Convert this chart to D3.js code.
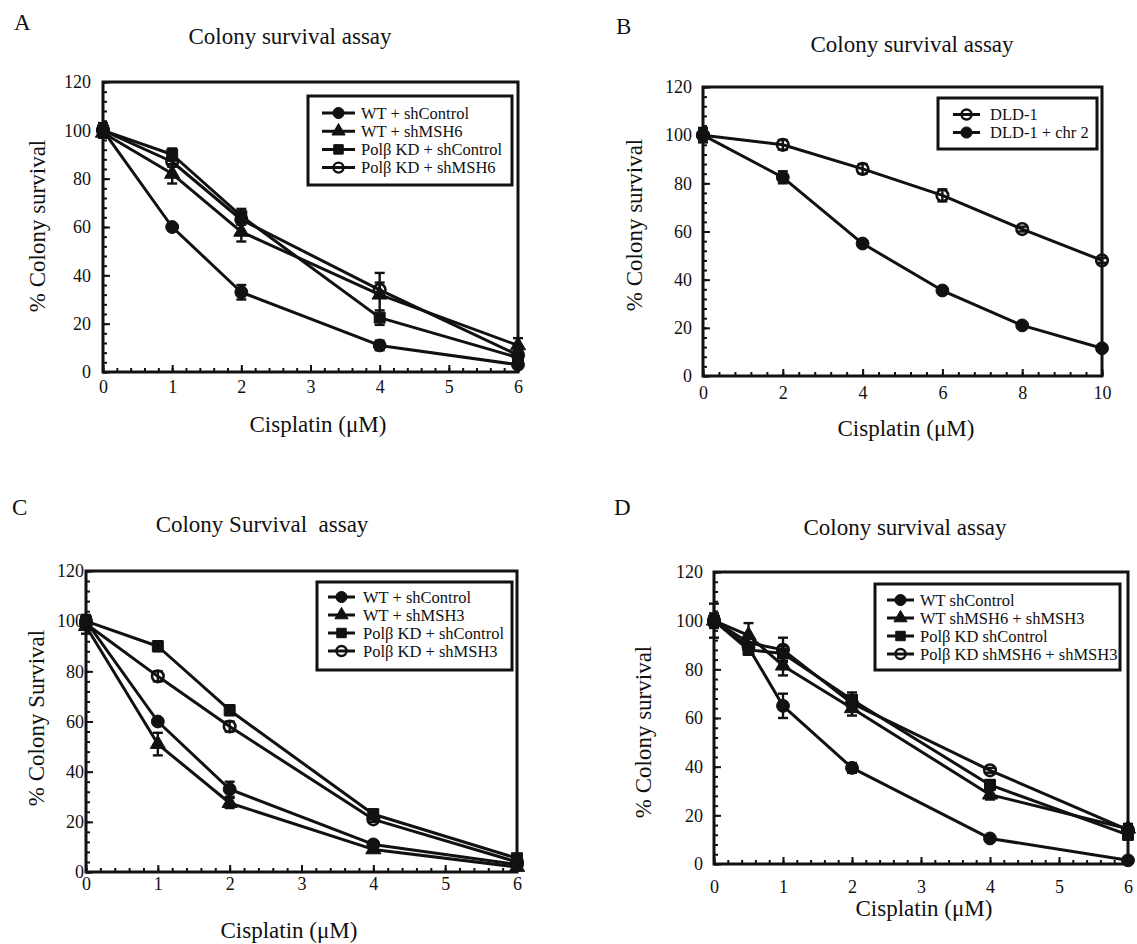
<!DOCTYPE html>
<html>
<head>
<meta charset="utf-8">
<script src="https://cdn.jsdelivr.net/npm/d3@7"></script>
<style>
body { margin: 0; background: #fff; }
svg text { font-family: "Liberation Serif", "Times New Roman", serif; fill: #111; }
</style>
</head>
<body>
<svg id="fig" width="1137" height="944"></svg>
<script>
// ---- data ----
// A
var dosesA = [0, 1, 2, 4, 6];
var aWtControl = [100, 60, 33, 11, 3];
var aWtControlErr = [2, 1, 3, 2, 1];
var aWtMsh6 = [99, 82, 58, 32, 11];
var aWtMsh6Err = [2, 4, 4, 9, 3];
var aPolControl = [100, 90, 64.5, 22.5, 6];
var aPolControlErr = [3, 2.5, 3, 3, 1];
var aPolMsh6 = [100, 87, 63, 34, 7];
var aPolMsh6Err = [1, 2, 2, 3, 1];
var labelsA = ["WT + shControl", "WT + shMSH6", "Polβ KD + shControl", "Polβ KD + shMSH6"];

// B
var dosesB = [0, 2, 4, 6, 8, 10];
var bDld1 = [100, 96, 86, 75, 61, 48];
var bDld1Err = [3, 2, 2, 2.5, 1, 1];
var bDld1Chr2 = [100, 82.5, 55, 35.5, 21, 11.5];
var bDld1Chr2Err = [2, 2.5, 1, 1, 1, 1];
var labelsB = ["DLD-1", "DLD-1 + chr 2"];

// C
var dosesC = [0, 1, 2, 4, 6];
var cWtControl = [100, 60, 33, 11, 3];
var cWtControlErr = [2, 1, 3, 1, 1];
var cWtMsh3 = [98, 51, 27.5, 9, 2];
var cWtMsh3Err = [3, 4.5, 2, 1, 1];
var cPolControl = [100, 90, 64.5, 23, 5.5];
var cPolControlErr = [2.5, 2, 2, 2, 1];
var cPolMsh3 = [99, 78, 58, 21, 4];
var cPolMsh3Err = [1, 2, 2, 1, 1];
var labelsC = ["WT + shControl", "WT + shMSH3", "Polβ KD + shControl", "Polβ KD + shMSH3"];

// D
var dosesD = [0, 0.5, 1, 2, 4, 6];
var dWtControl = [100, 89, 65, 39.5, 10.5, 1.5];
var dWtControlErr = [3, 2, 5, 2, 1, 1];
var dWtMsh = [100, 94, 81.5, 64, 28.5, 14.5];
var dWtMshErr = [7, 5, 4, 3, 2, 2];
var dPolControl = [100, 88, 86.5, 67.5, 32.5, 12];
var dPolControlErr = [2, 2, 3, 3, 2, 2];
var dPolMsh = [100, 91, 88, 66, 38.5, 14];
var dPolMshErr = [2, 2, 5, 2, 1, 1];
var labelsD = ["WT shControl", "WT shMSH6 + shMSH3", "Polβ KD shControl", "Polβ KD shMSH6 + shMSH3"];

var yTicks = [0, 20, 40, 60, 80, 100, 120];

// marker styles: filled circle, filled triangle, filled square, open circle
var mk = {
  dot:  { type: d3.symbolCircle,   size: 130, fill: "#111" },
  tri:  { type: d3.symbolTriangle, size: 100, fill: "#111" },
  sq:   { type: d3.symbolSquare,   size: 120, fill: "#111" },
  open: { type: d3.symbolCircle,   size: 105, fill: "none" }
};

function series(doses, vals, errs, name, m) {
  return { name: name, m: m, pts: doses.map(function(d, i) { return [d, vals[i], errs[i]]; }) };
}

var svg = d3.select("#fig");

function drawPanel(p) {
  var g = svg.append("g");
  var x = d3.scaleLinear().domain(p.xDomain).range(p.xRange);
  var y = d3.scaleLinear().domain([0, 120]).range(p.yRange);

  // minor ticks (inside)
  g.append("g").attr("transform", "translate(" + p.xRange[0] + ",0)")
    .call(d3.axisLeft(y).tickValues(d3.range(0, 121, 4)).tickSize(-4).tickFormat(""))
    .call(function(a) { a.select(".domain").remove(); });
  g.append("g").attr("transform", "translate(0," + p.yRange[0] + ")")
    .call(d3.axisBottom(x).tickValues(d3.range(0, p.xDomain[1] + 0.001, p.xMinor)).tickSize(-4).tickFormat(""))
    .call(function(a) { a.select(".domain").remove(); });

  // major ticks + labels
  g.append("g").attr("transform", "translate(" + p.xRange[0] + ",0)")
    .call(d3.axisLeft(y).tickValues(yTicks).tickSize(-7).tickPadding(p.yPad).tickFormat(d3.format("d")))
    .call(function(a) { a.select(".domain").remove(); });
  g.append("g").attr("transform", "translate(0," + p.yRange[0] + ")")
    .call(d3.axisBottom(x).tickValues(p.xTicks).tickSize(-7).tickPadding(p.xPad).tickFormat(d3.format("d")))
    .call(function(a) { a.select(".domain").remove(); });
  g.selectAll(".tick line").attr("stroke", "#111").attr("stroke-width", 2);
  g.selectAll(".tick text").attr("font-size", 18).attr("font-family", null).style("fill", "#111");

  // frame
  g.append("rect")
    .attr("x", p.xRange[0]).attr("y", p.yRange[1])
    .attr("width", p.xRange[1] - p.xRange[0]).attr("height", p.yRange[0] - p.yRange[1])
    .attr("fill", "none").attr("stroke", "#111").attr("stroke-width", 3);

  var line = d3.line().x(function(d) { return x(d[0]); }).y(function(d) { return y(d[1]); });

  p.series.forEach(function(s) {
    g.append("path").datum(s.pts).attr("d", line)
      .attr("fill", "none").attr("stroke", "#111").attr("stroke-width", 3).attr("stroke-linejoin", "round");
  });
  // error bars
  p.series.forEach(function(s) {
    var eb = g.append("g").attr("stroke", "#111").attr("stroke-width", 2.4);
    s.pts.forEach(function(d) {
      var cx = x(d[0]);
      eb.append("line").attr("x1", cx).attr("x2", cx).attr("y1", y(d[1] - d[2])).attr("y2", y(d[1] + d[2]));
      eb.append("line").attr("x1", cx - 5).attr("x2", cx + 5).attr("y1", y(d[1] - d[2])).attr("y2", y(d[1] - d[2]));
      eb.append("line").attr("x1", cx - 5).attr("x2", cx + 5).attr("y1", y(d[1] + d[2])).attr("y2", y(d[1] + d[2]));
    });
  });
  // markers
  p.series.forEach(function(s) {
    g.selectAll(null).data(s.pts).enter().append("path")
      .attr("d", d3.symbol().type(s.m.type).size(s.m.size))
      .attr("transform", function(d) { return "translate(" + x(d[0]) + "," + y(d[1]) + ")"; })
      .attr("fill", s.m.fill).attr("stroke", "#111").attr("stroke-width", s.m.fill === "none" ? 2.6 : 1);
  });

  // legend
  var L = p.legend;
  g.append("rect").attr("x", L.x).attr("y", L.y).attr("width", L.w).attr("height", L.h)
    .attr("fill", "#fff").attr("stroke", "#111").attr("stroke-width", 3);
  p.series.forEach(function(s, i) {
    var ry = L.y + L.first + i * L.step;
    g.append("line").attr("x1", L.x + L.lineX).attr("x2", L.x + L.lineX + L.lineLen).attr("y1", ry).attr("y2", ry)
      .attr("stroke", "#111").attr("stroke-width", 3);
    g.append("path").attr("d", d3.symbol().type(s.m.type).size(s.m.size * 0.75))
      .attr("transform", "translate(" + (L.x + L.lineX + L.lineLen / 2) + "," + ry + ")")
      .attr("fill", s.m.fill).attr("stroke", "#111").attr("stroke-width", s.m.fill === "none" ? 2.4 : 1);
    g.append("text").attr("x", L.x + L.textX).attr("y", ry).attr("dy", "0.35em")
      .attr("font-size", 16.5).text(s.name);
  });

  // titles
  g.append("text").attr("x", p.letter[0]).attr("y", p.letter[1]).attr("font-size", 23).text(p.id);
  g.append("text").attr("x", p.title[0]).attr("y", p.title[1]).attr("text-anchor", "middle")
    .attr("font-size", 23).style("white-space", "pre").text(p.titleText);
  g.append("text").attr("x", p.xLabel[0]).attr("y", p.xLabel[1]).attr("text-anchor", "middle")
    .attr("font-size", 23).text("Cisplatin (μM)");
  g.append("text").attr("transform", "translate(" + p.yLabel[0] + "," + p.yLabel[1] + ") rotate(-90)")
    .attr("text-anchor", "middle").attr("dy", "0.35em").attr("font-size", 23).text(p.yLabelText);
}

var panels = [
  { id: "A", titleText: "Colony survival assay", yLabelText: "% Colony survival",
    xDomain: [0, 6], xRange: [103, 518], yRange: [372, 82], xTicks: d3.range(0, 7), xMinor: 0.2,
    yPad: 12, xPad: 8, letter: [14, 30], title: [290, 44], xLabel: [318, 432], yLabel: [37, 226],
    legend: { x: 308, y: 96, w: 204, h: 89, first: 17, step: 18.2, lineX: 14, lineLen: 33, textX: 53 },
    series: [series(dosesA, aWtControl, aWtControlErr, labelsA[0], mk.dot),
             series(dosesA, aWtMsh6, aWtMsh6Err, labelsA[1], mk.tri),
             series(dosesA, aPolControl, aPolControlErr, labelsA[2], mk.sq),
             series(dosesA, aPolMsh6, aPolMsh6Err, labelsA[3], mk.open)] },
  { id: "B", titleText: "Colony survival assay", yLabelText: "% Colony survival",
    xDomain: [0, 10], xRange: [703, 1102], yRange: [376, 87], xTicks: d3.range(0, 11, 2), xMinor: 0.4,
    yPad: 11, xPad: 10, letter: [616, 34], title: [912, 52], xLabel: [906, 436], yLabel: [634, 225],
    legend: { x: 938, y: 98, w: 159, h: 51, first: 16.5, step: 18, lineX: 15, lineLen: 27, textX: 52 },
    series: [series(dosesB, bDld1, bDld1Err, labelsB[0], mk.open),
             series(dosesB, bDld1Chr2, bDld1Chr2Err, labelsB[1], mk.dot)] },
  { id: "C", titleText: "Colony Survival  assay", yLabelText: "% Colony Survival",
    xDomain: [0, 6], xRange: [86, 517], yRange: [872, 571], xTicks: d3.range(0, 7), xMinor: 0.2,
    yPad: 2, xPad: 5, letter: [12, 515], title: [262, 532], xLabel: [289, 938], yLabel: [36, 718],
    legend: { x: 317, y: 582, w: 195, h: 88, first: 15, step: 18, lineX: 11, lineLen: 27, textX: 46 },
    series: [series(dosesC, cWtControl, cWtControlErr, labelsC[0], mk.dot),
             series(dosesC, cWtMsh3, cWtMsh3Err, labelsC[1], mk.tri),
             series(dosesC, cPolControl, cPolControlErr, labelsC[2], mk.sq),
             series(dosesC, cPolMsh3, cPolMsh3Err, labelsC[3], mk.open)] },
  { id: "D", titleText: "Colony survival assay", yLabelText: "% Colony survival",
    xDomain: [0, 6], xRange: [714, 1128], yRange: [864, 572], xTicks: d3.range(0, 7), xMinor: 0.2,
    yPad: 11, xPad: 16, letter: [614, 515], title: [905, 535], xLabel: [924, 916], yLabel: [643, 732],
    legend: { x: 875, y: 584, w: 245, h: 86, first: 16, step: 18, lineX: 12, lineLen: 27, textX: 45 },
    series: [series(dosesD, dWtControl, dWtControlErr, labelsD[0], mk.dot),
             series(dosesD, dWtMsh, dWtMshErr, labelsD[1], mk.tri),
             series(dosesD, dPolControl, dPolControlErr, labelsD[2], mk.sq),
             series(dosesD, dPolMsh, dPolMshErr, labelsD[3], mk.open)] }
];

panels.forEach(drawPanel);
</script>
</body>
</html>
